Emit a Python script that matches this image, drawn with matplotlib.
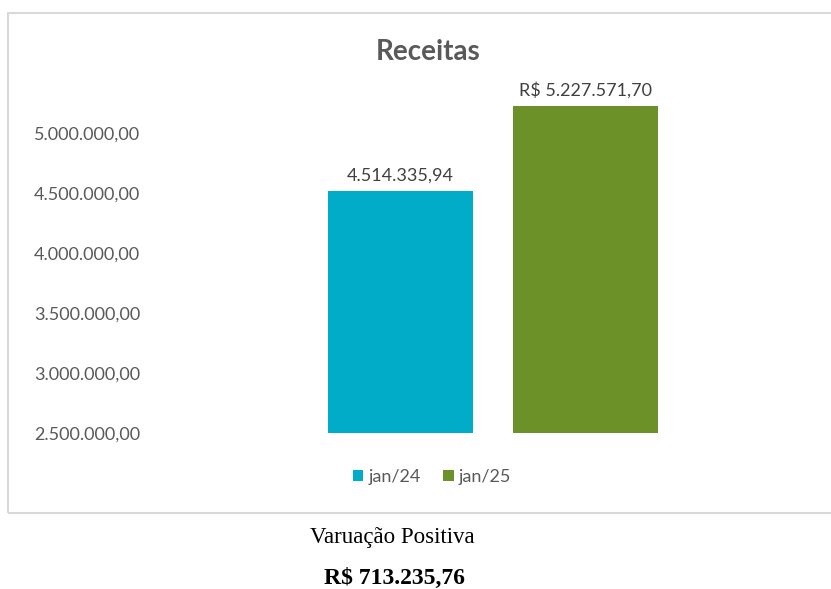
import matplotlib.pyplot as plt
from matplotlib.patches import Rectangle

# data
series = ['jan/24', 'jan/25']
values = [4514335.94, 5227571.70]
value_labels = ['4.514.335,94', 'R$ 5.227.571,70']
colors = ['#00ACC8', '#6B9128']
yticks = [2500000, 3000000, 3500000, 4000000, 4500000, 5000000]
variation_title = 'Varuação Positiva'
variation_value = 'R$ 713.235,76'


def br_fmt(v):
    s = f'{v:,.2f}'
    return s.replace(',', 'X').replace('.', ',').replace('X', '.')


plt.rcParams['font.family'] = ['Lato', 'DejaVu Sans']

fig = plt.figure(figsize=(8.31, 5.89), dpi=100)

# chart border
fig.patches.append(Rectangle((8 / 831, 1 - 513 / 589), 0.995, 500 / 589,
                             transform=fig.transFigure, fill=False,
                             edgecolor='#d9d9d9', linewidth=1.5))

ax = fig.add_axes([165 / 831, 1 - 433 / 589, 656 / 831, 336 / 589])

offsets = [-0.141, 0.141]
for name, val, lab, col, off in zip(series, values, value_labels, colors, offsets):
    ax.bar(off, val - yticks[0], bottom=yticks[0], width=0.22,
           color=col, label=name)
    ax.text(off, val + 60000, lab, ha='center', va='bottom',
            fontsize=13, color='#404040')

ax.set_xlim(-0.5, 0.5)
ax.set_ylim(yticks[0], 5300000)
ax.set_yticks(yticks)
ax.set_yticklabels([br_fmt(t) for t in yticks], fontsize=13, color='#595959')
ax.tick_params(axis='y', length=0, pad=18)
ax.set_xticks([])
for s in ax.spines.values():
    s.set_visible(False)

fig.text(428 / 831, 1 - 52 / 589, 'Receitas', ha='center', va='center',
         fontsize=20, fontweight='bold', color='#595959')

fig.legend(loc='center', bbox_to_anchor=(432 / 831, 1 - 477 / 589), ncol=2,
           frameon=False, fontsize=13, handlelength=0.6, handleheight=0.6,
           handletextpad=0.3, columnspacing=1.2, labelcolor='#595959')

fig.text(392 / 831, 1 - 537 / 589, variation_title, ha='center', va='center',
         fontsize=16.5, family='Liberation Serif', color='black')
fig.text(394 / 831, 1 - 578 / 589, variation_value, ha='center', va='center',
         fontsize=17, family='Liberation Serif', fontweight='bold', color='black')

fig.savefig('out.png', dpi=100)
